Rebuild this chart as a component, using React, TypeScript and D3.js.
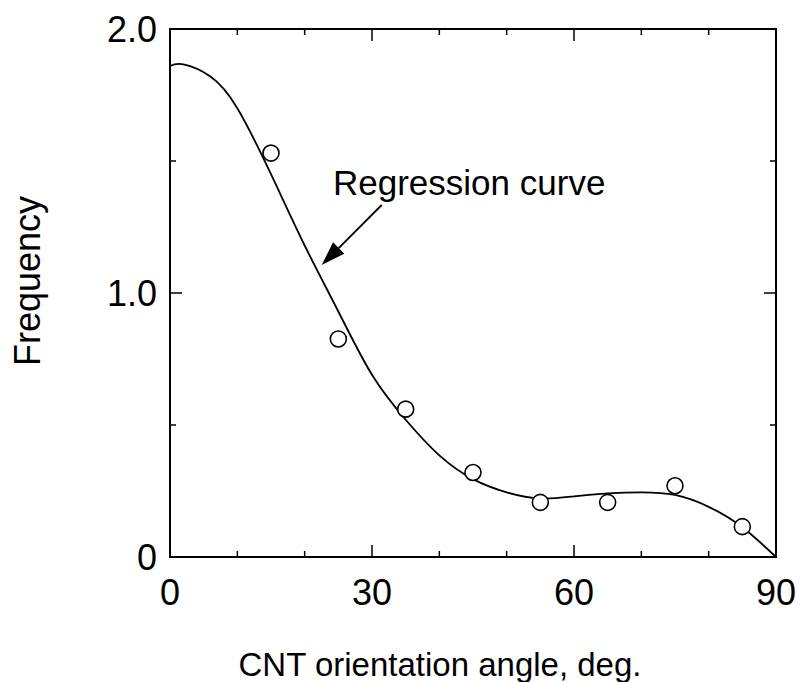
import React from "react";
import * as d3 from "d3";

// Measured frequency at each orientation-angle bin centre
const binAngles = [15, 25, 35, 45, 55, 65, 75, 85];
const frequencies = [1.53, 0.826, 0.56, 0.32, 0.207, 0.207, 0.27, 0.115];

// Regression curve samples
const curveAngles = [0, 2, 6, 10, 15, 20, 25, 30, 35, 40, 45, 50, 55, 60, 65, 70, 75, 80, 85, 90];
const curveValues = [1.86, 1.866, 1.82, 1.7, 1.45, 1.18, 0.93, 0.69, 0.52, 0.385, 0.295, 0.245, 0.222, 0.23, 0.241, 0.245, 0.235, 0.19, 0.113, 0];

const xMajorTicks = [0, 30, 60, 90];
const xMinorTicks = [10, 20, 40, 50, 70, 80];
const yMajorTicks = [0, 1, 2];
const yMinorTicks = [0.5, 1.5];
const yTickLabels = ["0", "1.0", "2.0"];

const W = 801;
const H = 682;
const left = 170;
const right = 776;
const top = 29;
const bottom = 557;
const font = "'Liberation Sans', Arial, sans-serif";

export default function App() {
  const x = d3.scaleLinear().domain([0, 90]).range([left, right]);
  const y = d3.scaleLinear().domain([0, 2]).range([bottom, top]);

  const line = d3
    .line<number>()
    .x((_, i) => x(curveAngles[i]))
    .y((d) => y(d))
    .curve(d3.curveNatural);

  const major = 12;
  const minor = 6;

  // arrow pointing at the regression curve
  const ax0 = 381.7, ay0 = 205, ax1 = 321.7, ay1 = 265;
  const ang = Math.atan2(ay1 - ay0, ax1 - ax0);
  const headLen = 24, headHalf = 8;
  const bx = ax1 - headLen * Math.cos(ang);
  const by = ay1 - headLen * Math.sin(ang);
  const px = -Math.sin(ang) * headHalf;
  const py = Math.cos(ang) * headHalf;

  return (
    <svg width={W} height={H} style={{ position: "absolute", left: 0, top: 0, background: "#fff" }}>
      <rect x={0} y={0} width={W} height={H} fill="#fff" />
      {/* ticks */}
      <g stroke="#000" strokeWidth={1.5}>
        {xMajorTicks.map((t) => (
          <g key={"xm" + t}>
            <line x1={x(t)} x2={x(t)} y1={bottom} y2={bottom - major} />
            <line x1={x(t)} x2={x(t)} y1={top} y2={top + major} />
          </g>
        ))}
        {xMinorTicks.map((t) => (
          <g key={"xn" + t}>
            <line x1={x(t)} x2={x(t)} y1={bottom} y2={bottom - minor} />
            <line x1={x(t)} x2={x(t)} y1={top} y2={top + minor} />
          </g>
        ))}
        {yMajorTicks.map((t) => (
          <g key={"ym" + t}>
            <line x1={left} x2={left + major} y1={y(t)} y2={y(t)} />
            <line x1={right} x2={right - major} y1={y(t)} y2={y(t)} />
          </g>
        ))}
        {yMinorTicks.map((t) => (
          <g key={"yn" + t}>
            <line x1={left} x2={left + minor} y1={y(t)} y2={y(t)} />
            <line x1={right} x2={right - minor} y1={y(t)} y2={y(t)} />
          </g>
        ))}
      </g>
      <rect x={left} y={top} width={right - left} height={bottom - top} fill="none" stroke="#000" strokeWidth={2} />

      {/* regression curve */}
      <path d={line(curveValues) || ""} fill="none" stroke="#000" strokeWidth={1.8} />

      {/* data points */}
      {binAngles.map((a, i) => (
        <circle key={a} cx={x(a)} cy={y(frequencies[i])} r={8} fill="#fff" stroke="#000" strokeWidth={1.6} />
      ))}

      {/* annotation */}
      <line x1={ax0} y1={ay0} x2={bx} y2={by} stroke="#000" strokeWidth={1.8} />
      <polygon points={`${ax1},${ay1} ${bx + px},${by + py} ${bx - px},${by - py}`} fill="#000" />
      <text x={333} y={195} fontFamily={font} fontSize={35} fill="#000">Regression curve</text>

      {/* tick labels */}
      <g fontFamily={font} fontSize={36} fill="#000">
        {xMajorTicks.map((t) => (
          <text key={"xl" + t} x={x(t)} y={605} textAnchor="middle">{t}</text>
        ))}
        {yMajorTicks.map((t, i) => (
          <text key={"yl" + t} x={157} y={y(t) + 13} textAnchor="end">{yTickLabels[i]}</text>
        ))}
      </g>

      {/* axis titles */}
      <text x={440} y={676} textAnchor="middle" fontFamily={font} fontSize={33} fill="#000">
        CNT orientation angle, deg.
      </text>
      <text
        transform={`translate(40, 281) rotate(-90)`}
        textAnchor="middle"
        fontFamily={font}
        fontSize={36}
        fill="#000"
      >
        Frequency
      </text>
    </svg>
  );
}
